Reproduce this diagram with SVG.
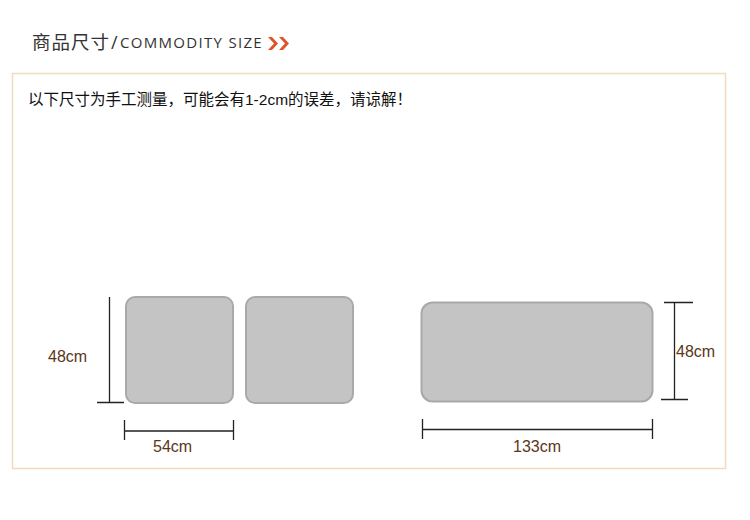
<svg xmlns="http://www.w3.org/2000/svg" width="750" height="520" viewBox="0 0 750 520">
<style>
.cushion{fill:#c4c4c4;stroke:#a9a9a9;stroke-width:2}
.dim{stroke:#222;stroke-width:1.3;fill:none}
.lbl{font-family:"Liberation Sans",Arial,sans-serif;font-size:16px;fill:#5b3617}
.cjk{font-family:"Noto Sans CJK SC","Noto Sans",sans-serif}
</style>
<rect width="750" height="520" fill="#ffffff"/>
<g id="title">
<text x="32" y="49" class="cjk" font-size="18.5" fill="#333" letter-spacing="1">商品尺寸</text>
<text x="111" y="49" font-family="'Open Sans',sans-serif" font-size="18" fill="#333">/</text>
<text x="120" y="48" font-family="'Open Sans',sans-serif" font-size="15" fill="#333" letter-spacing="1.3">COMMODITY SIZE</text>
<polygon points="268,37 272,37 278,43.5 272,50 268,50 274,43.5" fill="#e0532b"/>
<polygon points="279,37 283,37 289,43.5 283,50 279,50 285,43.5" fill="#e0532b"/>
</g>
<g id="panel">
<rect x="12.5" y="73.5" width="713" height="395" fill="#fff" stroke="#eedcbc" stroke-width="1.5"/>
<text x="28" y="105" font-family="'Liberation Sans','Noto Sans CJK SC',sans-serif" font-size="15.5" fill="#111">以下尺寸为手工测量，可能会有1-2cm的误差，请谅解！</text>
</g>
<g id="cushion1"><rect class="cushion" x="126" y="297" width="107" height="106" rx="9"/></g>
<g id="cushion2"><rect class="cushion" x="246" y="297" width="107" height="106" rx="9"/></g>
<g id="cushion3"><rect class="cushion" x="421.5" y="302.5" width="231" height="99" rx="11"/></g>
<g id="connectors">
<path class="dim" d="M109.5,297 V402.5 M97,402.5 H124"/>
<path class="dim" d="M124.5,420 V440 M233.5,420 V440 M124.5,431 H233.5"/>
<path class="dim" d="M422.5,419 V439 M652.5,419 V439 M422.5,429.5 H652.5"/>
<path class="dim" d="M674.5,302.5 V399.5 M664,302.5 H693 M661,399.5 H688"/>
</g>
<g id="labels">
<text class="lbl" x="48" y="362">48cm</text>
<text class="lbl" x="153" y="452">54cm</text>
<text class="lbl" x="513" y="452">133cm</text>
<text class="lbl" x="676" y="357">48cm</text>
</g>
</svg>
